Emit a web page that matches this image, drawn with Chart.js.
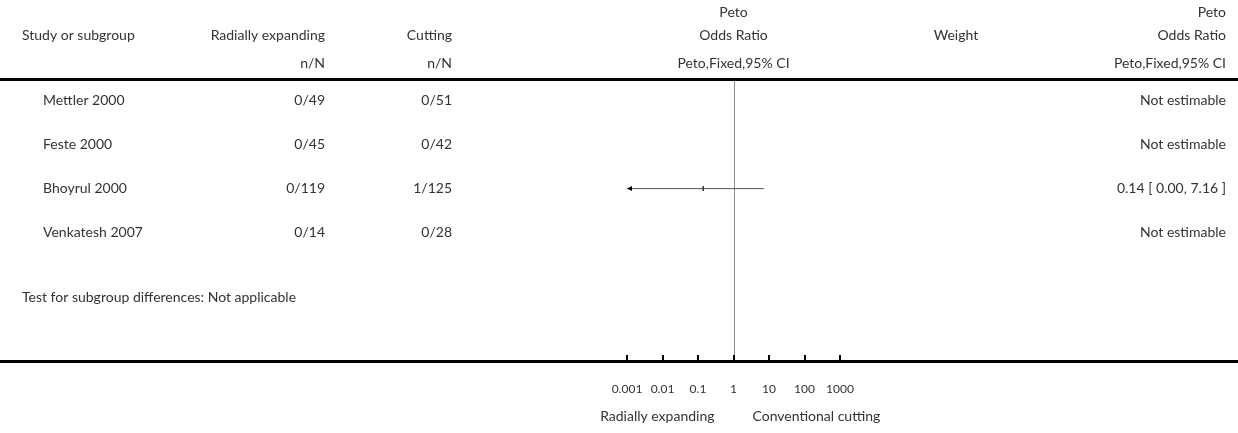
<!DOCTYPE html>
<html>
<head>
<meta charset="utf-8">
<script src="https://cdn.jsdelivr.net/npm/chart.js@4.4.1/dist/chart.umd.min.js"></script>
<style>
  html, body { margin: 0; padding: 0; background: #fff; }
  #wrap { width: 1238px; height: 433px; position: relative; }
</style>
</head>
<body>
<div id="wrap"><canvas id="c" width="1238" height="433"></canvas></div>
<script>
// ---- data ----
const studies = ["Mettler 2000", "Feste 2000", "Bhoyrul 2000", "Venkatesh 2007"];
const expEvents = [0, 0, 0, 0];
const expTotal = [49, 45, 119, 14];
const ctrlEvents = [0, 0, 1, 0];
const ctrlTotal = [51, 42, 125, 28];
const orValue = [null, null, 0.14, null];
const ciLow = [null, null, 0.0007, null];
const ciHigh = [null, null, 7.16, null];
const xTickValues = [0.001, 0.01, 0.1, 1, 10, 100, 1000];
const xTickLabels = ["0.001", "0.01", "0.1", "1", "10", "100", "1000"];
const leftLabel = "Radially expanding";
const rightLabel = "Conventional cutting";
const footText = "Test for subgroup differences: Not applicable";

const FONT = "Lato, 'Open Sans', sans-serif";
const TXT = "#333";
const W = 1238;

function resultText(i) {
  if (orValue[i] == null) return "Not estimable";
  return orValue[i].toFixed(2) + " [ " + ciLow[i].toFixed(2) + ", " + ciHigh[i].toFixed(2) + " ]";
}

const ciDatasets = studies.map((s, i) => orValue[i] == null ? null : ({
  type: 'line',
  label: s + " CI",
  data: [{x: ciLow[i], y: i}, {x: ciHigh[i], y: i}],
  borderColor: '#555',
  borderWidth: 1,
  pointRadius: 0,
  showLine: true,
  order: 2
})).filter(Boolean);

const pointData = studies.map((s, i) => orValue[i] == null ? null : {x: orValue[i], y: i}).filter(Boolean);

const forestPlugin = {
  id: 'forest',
  beforeDatasetsDraw(chart) {
    const {ctx, chartArea, scales} = chart;
    const x1 = Math.round(scales.x.getPixelForValue(1)) + 0.5;
    ctx.save();
    ctx.strokeStyle = '#8a8a8a';
    ctx.lineWidth = 1;
    ctx.beginPath();
    ctx.moveTo(x1, chartArea.top);
    ctx.lineTo(x1, chartArea.bottom);
    ctx.stroke();
    ctx.restore();
  },
  afterDatasetsDraw(chart) {
    const {ctx, chartArea, scales} = chart;
    const xs = scales.x, ys = scales.y;
    ctx.save();
    // header & axis rules
    ctx.fillStyle = '#000';
    ctx.fillRect(0, 78, W, 3);
    ctx.fillRect(0, chartArea.bottom - 1, W, 3);
    // tick marks (upwards)
    ctx.strokeStyle = '#000';
    ctx.lineWidth = 2;
    xTickValues.forEach(v => {
      const px = Math.round(xs.getPixelForValue(v));
      ctx.beginPath();
      ctx.moveTo(px, chartArea.bottom - 6);
      ctx.lineTo(px, chartArea.bottom);
      ctx.stroke();
    });
    // arrows for clipped CIs
    studies.forEach((s, i) => {
      if (orValue[i] == null) return;
      const py = ys.getPixelForValue(i);
      if (ciLow[i] < xs.min) {
        const px = xs.left;
        ctx.fillStyle = '#000';
        ctx.beginPath();
        ctx.moveTo(px, py);
        ctx.lineTo(px + 5, py - 2.5);
        ctx.lineTo(px + 5, py + 2.5);
        ctx.closePath();
        ctx.fill();
      }
      if (ciHigh[i] > xs.max) {
        const px = xs.right;
        ctx.fillStyle = '#000';
        ctx.beginPath();
        ctx.moveTo(px, py);
        ctx.lineTo(px - 5, py - 2.5);
        ctx.lineTo(px - 5, py + 2.5);
        ctx.closePath();
        ctx.fill();
      }
    });

    // text
    ctx.fillStyle = TXT;
    ctx.textBaseline = 'middle';
    ctx.font = "14px " + FONT;
    const xc = xs.getPixelForValue(1);
    const t = (s, x, y, a) => { ctx.textAlign = a; ctx.fillText(s, x, y); };
    t("Study or subgroup", 22, 35, 'left');
    t("Radially expanding", 325, 35, 'right');
    t("Cutting", 452, 35, 'right');
    t("Peto", xc, 12, 'center');
    t("Odds Ratio", xc, 35, 'center');
    t("Weight", 956, 35, 'center');
    t("Peto", 1226, 12, 'right');
    t("Odds Ratio", 1226, 35, 'right');
    t("n/N", 325, 63, 'right');
    t("n/N", 452, 63, 'right');
    t("Peto,Fixed,95% CI", xc, 63, 'center');
    t("Peto,Fixed,95% CI", 1226, 63, 'right');

    studies.forEach((s, i) => {
      const py = ys.getPixelForValue(i);
      t(s, 43, py, 'left');
      t(expEvents[i] + "/" + expTotal[i], 325, py, 'right');
      t(ctrlEvents[i] + "/" + ctrlTotal[i], 452, py, 'right');
      t(resultText(i), 1226, py, 'right');
    });
    t(footText, 22, ys.getPixelForValue(4.48), 'left');

    t(leftLabel, xc - 19, 416, 'right');
    t(rightLabel, xc + 19, 416, 'left');
    ctx.restore();
  }
};

new Chart(document.getElementById('c'), {
  type: 'scatter',
  data: {
    datasets: [
      ...ciDatasets,
      {
        type: 'scatter',
        label: 'Peto OR',
        data: pointData,
        pointStyle: 'line',
        rotation: 90,
        radius: 2.5,
        borderColor: '#333',
        borderWidth: 1.5,
        order: 1
      }
    ]
  },
  options: {
    responsive: false,
    animation: false,
    events: [],
    layout: { padding: { left: 627, right: 398, top: 81, bottom: 0 } },
    plugins: { legend: { display: false }, tooltip: { enabled: false } },
    scales: {
      x: {
        type: 'logarithmic',
        position: 'bottom',
        min: 0.001,
        max: 1000,
        afterBuildTicks(scale) { scale.ticks = xTickValues.map(v => ({ value: v })); },
        afterFit(scale) { scale.height = 72; },
        grid: { display: false, drawTicks: false },
        border: { display: false },
        ticks: {
          autoSkip: false,
          maxRotation: 0,
          padding: 21,
          color: TXT,
          font: { family: FONT, size: 12 },
          callback(v) { const k = xTickValues.indexOf(v); return k >= 0 ? xTickLabels[k] : ''; }
        }
      },
      y: {
        type: 'linear',
        display: false,
        reverse: true,
        min: -0.4545,
        max: 5.932
      }
    }
  },
  plugins: [forestPlugin]
});
</script>
</body>
</html>
